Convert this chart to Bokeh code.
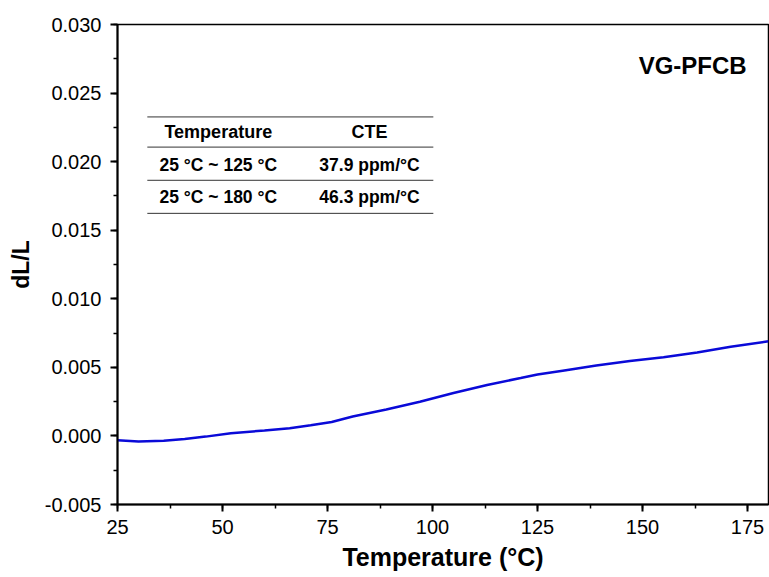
from bokeh.plotting import figure
from bokeh.models import SingleIntervalTicker, NumeralTickFormatter, Range1d, Label
from bokeh.embed import file_html
from bokeh.resources import INLINE

# Data
temperature = [25, 30, 36, 41, 46, 52, 60, 66, 71, 76, 81, 89, 97, 105, 113, 121, 125,
               131, 139, 147, 155, 163, 171, 180]
dl_over_l = [-0.00031, -0.00040, -0.00036, -0.00022, -0.00005, 0.00020, 0.00040, 0.00056,
             0.00078, 0.00102, 0.00142, 0.00193, 0.00249, 0.00313, 0.00372, 0.00422, 0.00448,
             0.00476, 0.00513, 0.00547, 0.00574, 0.00608, 0.00650, 0.00690]

table_header = ["Temperature", "CTE"]
table_ranges = ["25 \u00b0C ~ 125 \u00b0C", "25 \u00b0C ~ 180 \u00b0C"]
table_cte = ["37.9 ppm/\u00b0C", "46.3 ppm/\u00b0C"]

FONT = "Liberation Sans"

p = figure(width=769, height=577, output_backend="svg", toolbar_location=None,
           x_range=Range1d(25, 180), y_range=Range1d(-0.005, 0.030),
           min_border_left=117, min_border_right=1, min_border_top=24, min_border_bottom=73)

p.background_fill_color = "white"
p.border_fill_color = "white"
p.outline_line_color = "black"
p.outline_line_width = 1.5
p.xgrid.visible = False
p.ygrid.visible = False

p.xaxis.ticker = SingleIntervalTicker(interval=25, num_minor_ticks=2)
p.yaxis.ticker = SingleIntervalTicker(interval=0.005, num_minor_ticks=2)
p.yaxis.formatter = NumeralTickFormatter(format="0.000")

for ax in (p.xaxis, p.yaxis):
    ax.axis_line_width = 2
    ax.axis_line_color = "black"
    ax.major_tick_line_width = 2
    ax.minor_tick_line_width = 1.5
    ax.major_tick_in = 0
    ax.major_tick_out = 7
    ax.minor_tick_in = 0
    ax.minor_tick_out = 4
    ax.major_label_text_font = FONT
    ax.major_label_text_font_size = "20px"
    ax.major_label_text_color = "black"
    ax.axis_label_text_font = FONT
    ax.axis_label_text_font_style = "bold"
    ax.axis_label_text_color = "black"

p.xaxis.axis_label = "Temperature (\u00b0C)"
p.xaxis.axis_label_text_font_size = "25px"
p.xaxis.axis_label_standoff = 6
p.xaxis.major_label_standoff = 8
p.yaxis.axis_label = "dL/L"
p.yaxis.axis_label_text_font_size = "23px"
p.yaxis.axis_label_standoff = 8
p.yaxis.major_label_standoff = 9

p.line(temperature, dl_over_l, line_color="#0a0ad8", line_width=2.5)

# Title label
p.add_layout(Label(x=174.8, y=0.0270, text="VG-PFCB", text_font=FONT, text_font_style="bold",
                   text_font_size="24px", text_align="right", text_baseline="middle",
                   text_color="black"))

# Table lines
line_y = [0.02326, 0.02106, 0.01864, 0.01623]
for yy in line_y:
    p.line([32.1, 100.2], [yy, yy], line_color="#333333", line_width=1)

col_x = [49.0, 85.0]
for j in range(2):
    p.add_layout(Label(x=col_x[j], y=0.02215, text=table_header[j], text_font=FONT,
                       text_font_style="bold", text_font_size="18px", text_align="center",
                       text_baseline="middle", text_color="black"))
row_y = [0.01974, 0.01740]
for i in range(2):
    p.add_layout(Label(x=col_x[0], y=row_y[i], text=table_ranges[i], text_font=FONT,
                       text_font_style="bold", text_font_size="17.5px", text_align="center",
                       text_baseline="middle", text_color="black"))
    p.add_layout(Label(x=col_x[1], y=row_y[i], text=table_cte[i], text_font=FONT,
                       text_font_style="bold", text_font_size="17.5px", text_align="center",
                       text_baseline="middle", text_color="black"))

open("out.html", "w").write(file_html(p, INLINE))
